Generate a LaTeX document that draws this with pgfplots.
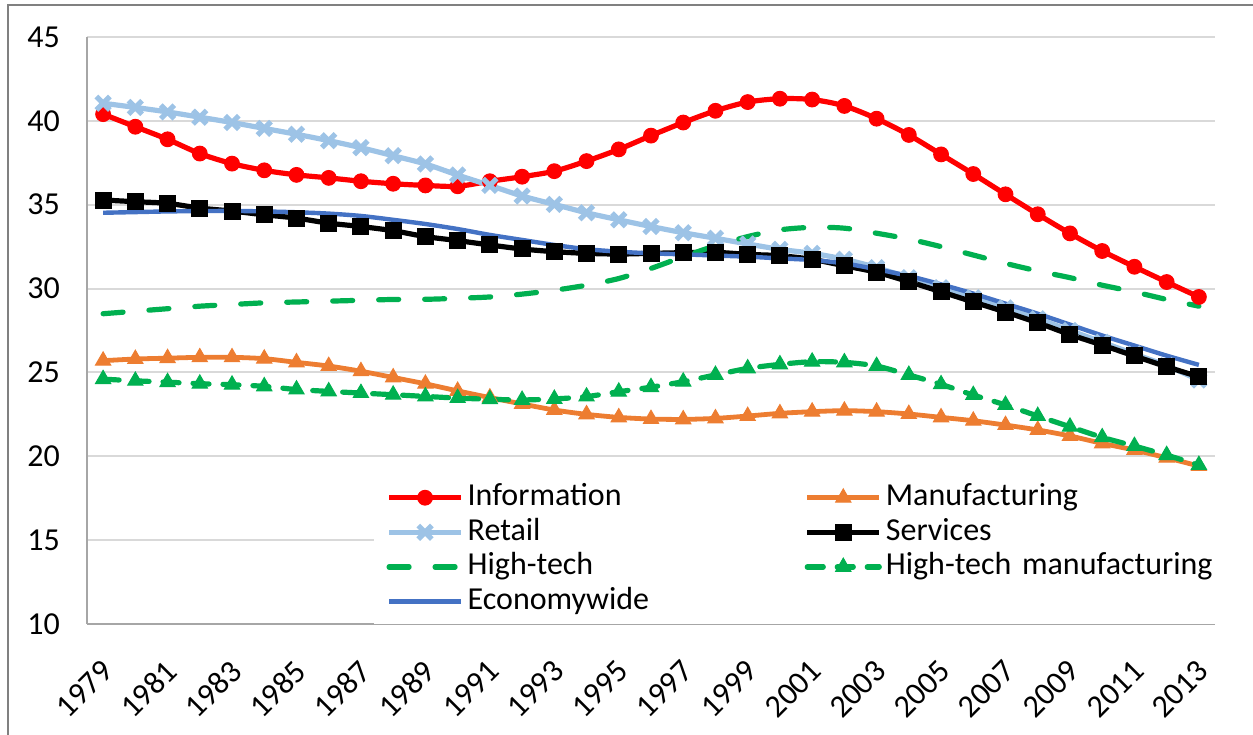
\documentclass[border=0pt]{standalone}
\usepackage{pgfplots}
\pgfplotsset{compat=1.18}
\usepackage{pgfplotstable}
\usepackage{fontspec}
\setmainfont{Carlito}

\definecolor{cinfo}{HTML}{FF0000}
\definecolor{cmanu}{HTML}{ED7D31}
\definecolor{cretail}{HTML}{9DC3E6}
\definecolor{cht}{HTML}{00B050}
\definecolor{cecon}{HTML}{4472C4}
\definecolor{gridgray}{HTML}{D9D9D9}
\definecolor{axisgray}{HTML}{A6A6A6}
\definecolor{framegray}{HTML}{808080}

\pgfplotstableread{
year info  manu  retail serv  ht    htm   econ
1979 40.40 25.70 41.05 35.28 28.50 24.60 34.52
1980 39.65 25.80 40.80 35.18 28.65 24.50 34.56
1981 38.90 25.85 40.53 35.08 28.80 24.42 34.60
1982 38.05 25.90 40.22 34.80 28.95 24.33 34.62
1983 37.45 25.90 39.90 34.62 29.05 24.27 34.63
1984 37.05 25.82 39.55 34.40 29.15 24.17 34.60
1985 36.78 25.60 39.20 34.20 29.20 23.98 34.55
1986 36.60 25.38 38.82 33.90 29.25 23.87 34.47
1987 36.40 25.07 38.40 33.70 29.30 23.77 34.33
1988 36.25 24.70 37.92 33.45 29.35 23.67 34.10
1989 36.15 24.32 37.43 33.10 29.36 23.57 33.85
1990 36.10 23.90 36.77 32.86 29.42 23.47 33.55
1991 36.40 23.50 36.15 32.60 29.50 23.40 33.20
1992 36.67 23.12 35.52 32.36 29.67 23.36 32.90
1993 37.00 22.76 35.02 32.20 29.90 23.42 32.60
1994 37.60 22.50 34.52 32.10 30.20 23.56 32.35
1995 38.30 22.32 34.10 32.06 30.60 23.85 32.20
1996 39.12 22.22 33.70 32.10 31.20 24.12 32.10
1997 39.90 22.20 33.33 32.14 31.90 24.45 32.04
1998 40.60 22.26 33.00 32.16 32.55 24.85 31.97
1999 41.12 22.40 32.66 32.04 33.10 25.24 31.90
2000 41.32 22.56 32.34 31.96 33.50 25.48 31.80
2001 41.27 22.66 32.10 31.74 33.65 25.64 31.70
2002 40.89 22.72 31.75 31.36 33.60 25.60 31.50
2003 40.13 22.66 31.25 30.97 33.30 25.38 31.15
2004 39.16 22.52 30.65 30.41 32.95 24.85 30.75
2005 38.00 22.32 30.05 29.81 32.50 24.29 30.25
2006 36.83 22.12 29.45 29.20 32.00 23.65 29.70
2007 35.62 21.86 28.85 28.60 31.50 23.06 29.10
2008 34.43 21.57 28.20 27.96 31.05 22.40 28.50
2009 33.29 21.21 27.50 27.26 30.65 21.76 27.85
2010 32.24 20.77 26.80 26.63 30.20 21.13 27.20
2011 31.30 20.37 26.10 25.98 29.80 20.61 26.60
2012 30.39 19.91 25.40 25.34 29.35 20.07 26.00
2013 29.50 19.42 24.55 24.74 28.95 19.48 25.45
}\datatable

\begin{document}
\begin{tikzpicture}
\useasboundingbox (-43.5pt,-55pt) rectangle (583pt,312pt);
\draw[framegray, line width=1pt] (-39.5pt,-60pt) |- (590pt,309.5pt);
\begin{axis}[
    width=564pt, height=293.5pt, scale only axis,
    xmin=1978.5, xmax=2013.5, ymin=10, ymax=45,
    xtick={1979,1981,...,2013}, ytick={10,15,...,45},
    axis x line*=bottom, axis y line*=left,
    axis line style={-, color=axisgray, line width=1pt},
    ymajorgrids, major grid style={color=gridgray, line width=1pt},
    major tick length=0pt,
    /pgf/number format/1000 sep={},
    /pgf/number format/assume math mode=true,
    tick label style={font=\fontsize{16}{19}\selectfont},
    yticklabel style={xshift=-10pt},
    xticklabel style={xshift=4.5pt, yshift=-18.5pt, rotate=45, anchor=east},
    legend columns=2,
    legend cell align=left,
    legend style={at={(rel axis cs:0.2545,0.2538)}, anchor=north west,
        draw=none, fill=white, inner xsep=6pt, inner ysep=2.5pt,
        font=\fontsize{16}{19}\selectfont,
        nodes={text width=165pt, align=left, text height=11pt, text depth=3pt,
               inner ysep=1.65pt, inner xsep=2pt},
        /tikz/every even column/.append style={column sep=1.5pt}},
    legend image code/.code={
        \draw[mark repeat=2, mark phase=2, #1]
            plot coordinates {(0pt,0pt) (18pt,0pt) (36pt,0pt)};},
    every axis plot/.append style={smooth}
]
\addplot[cinfo, line width=2.6pt, mark=*, mark size=3.7pt,
    mark options={fill=cinfo, line width=0.5pt}]
    table[x=year, y=info] {\datatable};
\addlegendentry{Information}
\addplot[cmanu, line width=2.4pt, mark=triangle*, mark size=4.4pt,
    mark options={fill=cmanu, line width=0.5pt}]
    table[x=year, y=manu] {\datatable};
\addlegendentry{Manufacturing}
\addplot[cretail, line width=2.6pt, mark=x, mark size=4.8pt,
    mark options={line width=2.6pt}]
    table[x=year, y=retail] {\datatable};
\addlegendentry{Retail}
\addplot[black, line width=2.6pt, mark=square*, mark size=4pt,
    mark options={fill=black, line width=0.5pt}]
    table[x=year, y=serv] {\datatable};
\addlegendentry{Services}
\addplot[cht, line width=2.6pt, line cap=round, dash pattern=on 10pt off 13pt]
    table[x=year, y=ht] {\datatable};
\addlegendentry{High-tech}
\addplot[cht, line width=2.6pt, line cap=round, dash pattern=on 8pt off 7pt,
    mark=triangle*, mark size=4.4pt,
    mark options={solid, fill=cht, line width=0.5pt}]
    table[x=year, y=htm] {\datatable};
\addlegendentry{\mbox{High-tech manufacturing}}
\addplot[cecon, line width=2.2pt]
    table[x=year, y=econ] {\datatable};
\addlegendentry{Economywide}
\end{axis}
\end{tikzpicture}
\end{document}
